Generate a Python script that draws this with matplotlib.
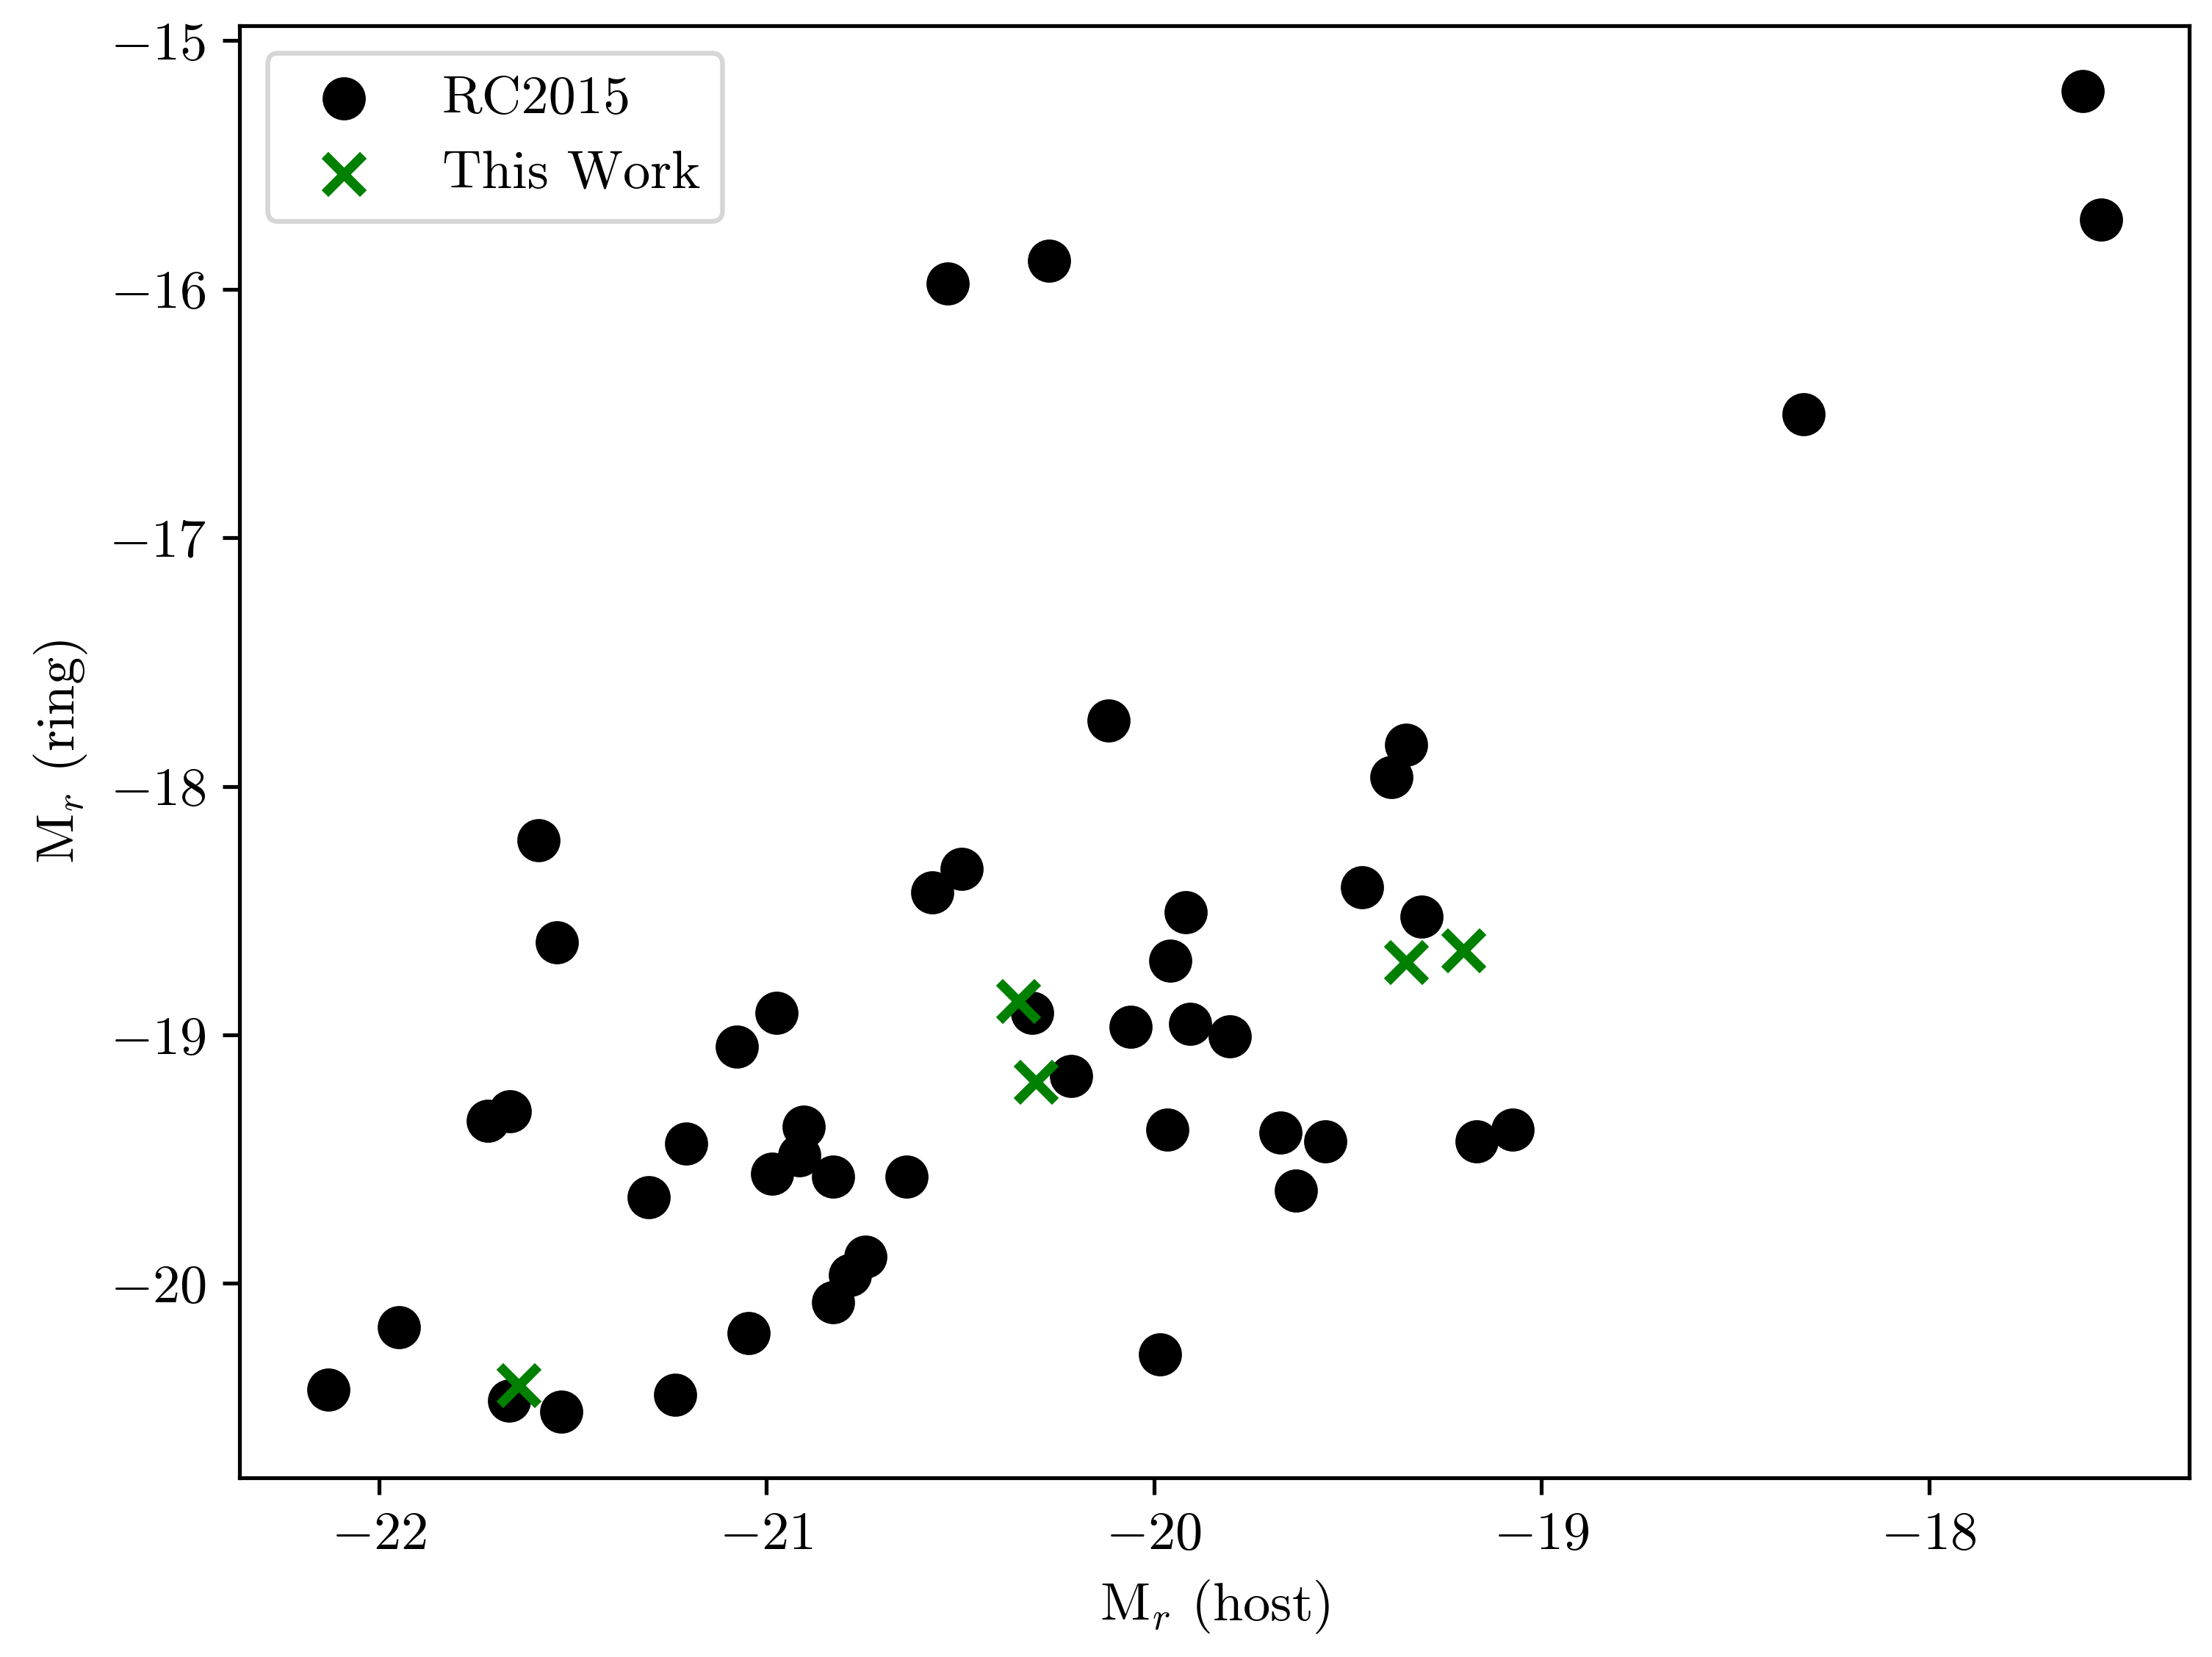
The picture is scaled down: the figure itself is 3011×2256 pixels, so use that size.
import numpy as np
import matplotlib
matplotlib.use('Agg')
import matplotlib.pyplot as plt

plt.rcParams['font.family'] = ['cmr10', 'DejaVu Serif']
plt.rcParams['mathtext.fontset'] = 'cm'
plt.rcParams['axes.formatter.use_mathtext'] = True
plt.rcParams['axes.unicode_minus'] = True

# ---------------------

# RC2015 sample
rc_host = [-17.603, -17.556, -18.324, -20.533, -20.271, -20.118, -19.350, -19.387,
           -19.463, -19.310, -19.918, -19.958, -19.907, -19.805, -20.060, -20.213,
           -20.315, -20.497, -20.573, -21.589, -21.541, -20.974, -21.076, -21.720,
           -21.662, -21.207, -20.904, -20.915, -20.985, -20.828, -20.639, -21.305,
           -20.744, -20.784, -20.828, -21.046, -21.949, -22.131, -21.665, -21.530,
           -21.236, -19.984, -19.965, -19.674, -19.558, -19.634, -19.168, -19.074]
rc_ring = [-15.204, -15.721, -16.504, -15.976, -15.885, -17.736, -17.832, -17.963,
           -18.405, -18.524, -18.507, -18.700, -18.956, -19.007, -18.967, -19.166,
           -18.910, -18.331, -18.428, -18.218, -18.627, -18.910, -19.047, -19.347,
           -19.308, -19.438, -19.370, -19.484, -19.557, -19.569, -19.569, -19.654,
           -19.892, -19.966, -20.074, -20.199, -20.176, -20.426, -20.471, -20.517,
           -20.448, -20.284, -19.381, -19.393, -19.427, -19.626, -19.427, -19.381]

# this work
tw_host = [-20.351, -20.304, -19.350, -19.201, -21.640]
tw_ring = [-18.865, -19.188, -18.706, -18.661, -20.409]

# ---------------------

fs = 11.4
fig, ax = plt.subplots(figsize=(3011 / 470, 2256 / 470), dpi=470)
fig.subplots_adjust(left=0.1084, right=0.9898, top=0.9847, bottom=0.108)

ax.scatter(rc_host, rc_ring, s=64, c='k', label='RC2015')
ax.scatter(tw_host, tw_ring, s=64, c='green', marker='x', linewidths=2, label='This Work')

ax.set_xlabel(r'$\mathrm{M}_r$ (host)', fontsize=fs)
ax.set_ylabel(r'$\mathrm{M}_r$ (ring)', fontsize=fs)
ax.tick_params(labelsize=fs)
ax.legend(loc='upper left', fontsize=fs)

fig.savefig('out.png', dpi=470)
